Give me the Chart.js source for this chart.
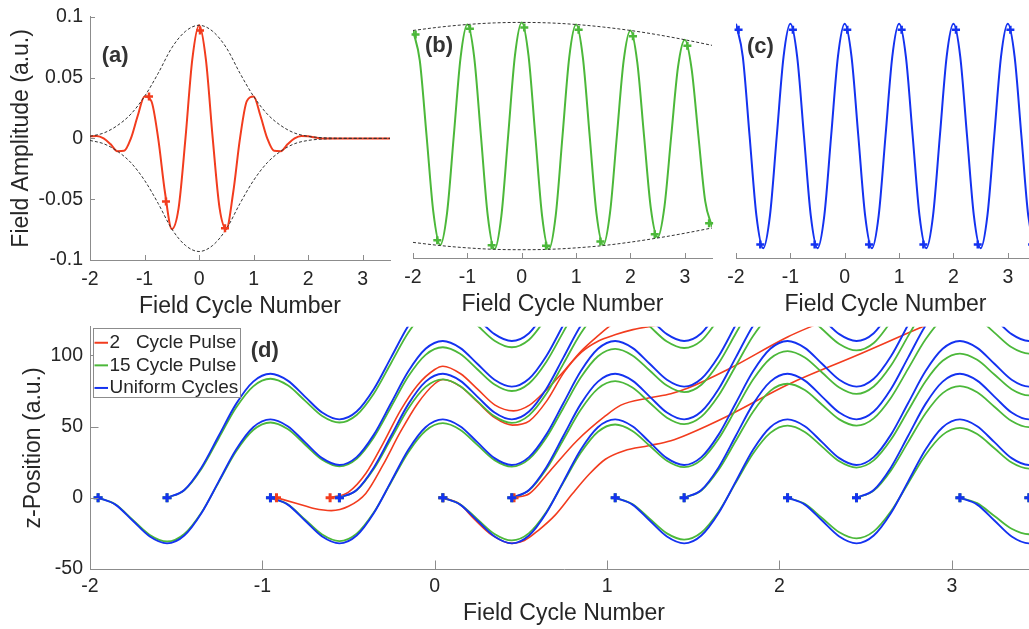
<!DOCTYPE html>
<html><head><meta charset="utf-8">
<script src="https://cdn.jsdelivr.net/npm/chart.js@4/dist/chart.umd.min.js"></script>
<style>
html,body{margin:0;padding:0;background:#fff;overflow:hidden;width:1029px;height:629px;position:relative;}
canvas{position:absolute;}
</style></head><body>
<canvas id="ca" width="400" height="320" style="left:0;top:0"></canvas>
<canvas id="cb" width="400" height="320" style="left:323px;top:0"></canvas>
<canvas id="cc" width="400" height="320" style="left:646px;top:0"></canvas>
<canvas id="cd" width="1060" height="319" style="left:0;top:310px"></canvas>
<script>
// ---------------- DATA ----------------
const xTickValues = [-2, -1, 0, 1, 2, 3];
const xTickLabels = ['-2', '-1', '0', '1', '2', '3'];
const yTickValuesA = [-0.1, -0.05, 0, 0.05, 0.1];
const yTickLabelsA = ['-0.1', '-0.05', '0', '0.05', '0.1'];
const yTickValuesD = [-50, 0, 50, 100];
const yTickLabelsD = ['-50', '0', '50', '100'];
const xTitle = 'Field Cycle Number';
const yTitleA = 'Field Amplitude (a.u.)';
const yTitleD = 'z-Position (a.u.)';
const panelNames = ['(a)', '(b)', '(c)', '(d)'];
const legendLabels = ['2   Cycle Pulse', '15 Cycle Pulse', 'Uniform Cycles'];

// field traces (panels a, b, c)
const fieldTimes = [-2,-1.875,-1.75,-1.625,-1.5,-1.375,-1.25,-1.125,-1,-0.875,-0.75,-0.625,-0.5,-0.375,-0.25,-0.125,0,0.125,0.25,0.375,0.5,0.625,0.75,0.875,1,1.125,1.25,1.375,1.5,1.625,1.75,1.875,2,2.125,2.25,2.375,2.5,2.625,2.75,2.875,3,3.125,3.25,3.375,3.5];
const fieldTwoCycle = [0.0017,0.0020,0,-0.0047,-0.0105,-0.0102,0,0.0186,0.0345,0.0306,0,-0.0445,-0.0745,-0.0571,0,0.0647,0.0930,0.0647,0,-0.0571,-0.0745,-0.0445,0,0.0306,0.0345,0.0186,0,-0.0102,-0.0105,-0.0047,0,0.0020,0.0017,0.0007,0,0,0,0,0,0,0,0,0,0,0];
const fieldFifteenCycle = [0.0865,0.0617,0,-0.0627,-0.0893,-0.0636,0,0.0643,0.0914,0.0649,0,-0.0653,-0.0927,-0.0657,0,0.0658,0.0931,0.0658,0,-0.0657,-0.0927,-0.0653,0,0.0649,0.0914,0.0643,0,-0.0636,-0.0893,-0.0627,0,0.0617,0.0865,0.0606,0,-0.0593,-0.0830,-0.0580,0,0.0566,0.0789,0.0550,0,-0.0534,-0.0743];
const fieldUniform = [0.092,0.0651,0,-0.0651,-0.092,-0.0651,0,0.0651, 0.092,0.0651,0,-0.0651,-0.092,-0.0651,0,0.0651, 0.092,0.0651,0,-0.0651,-0.092,-0.0651,0,0.0651, 0.092,0.0651,0,-0.0651,-0.092,-0.0651,0,0.0651, 0.092,0.0651,0,-0.0651,-0.092,-0.0651,0,0.0651, 0.092,0.0651,0,-0.0651,-0.092];

const envTimesA = [-2,-1.75,-1.5,-1.25,-1,-0.75,-0.5,-0.25,0,0.25,0.5,0.75,1,1.25,1.5,1.75,2,2.25,2.5,2.75,3,3.25,3.5];
const envUpperA = [0.0017,0.0044,0.0105,0.0200,0.0345,0.0535,0.0745,0.0880,0.0930,0.0880,0.0745,0.0535,0.0345,0.0200,0.0105,0.0044,0.0017,0.0006,0.0002,0.0001,0,0,0];
const envLowerA = [-0.0017,-0.0044,-0.0105,-0.0200,-0.0345,-0.0535,-0.0745,-0.0880,-0.0930,-0.0880,-0.0745,-0.0535,-0.0345,-0.0200,-0.0105,-0.0044,-0.0017,-0.0006,-0.0002,-0.0001,0,0,0];
const envTimesB = [-2,-1.5,-1,-0.5,0,0.5,1,1.5,2,2.5,3,3.5];
const envUpperB = [0.0865,0.0893,0.0914,0.0927,0.0931,0.0927,0.0914,0.0893,0.0865,0.0830,0.0789,0.0743];
const envLowerB = [-0.0872,-0.0898,-0.0917,-0.0929,-0.0932,-0.0929,-0.0917,-0.0898,-0.0870,-0.0836,-0.0797,-0.0754];

const crossTimesA = [-0.918, -0.607, 0.017, 0.475];
const crossValsA = [0.0345, -0.052, 0.0887, -0.0739];
const crossTimesBC = [-1.953,-1.553,-0.953,-0.553,0.047,0.447,1.047,1.447,2.047,2.447,3.047,3.447];
const crossValsB = [0.0832,-0.0854,0.0880,-0.0895,0.0889,-0.0900,0.0870,-0.0865,0.0818,-0.0805,0.0740,-0.0715];
const crossValsC = [0.087,-0.089,0.087,-0.089,0.087,-0.089,0.087,-0.089,0.087,-0.089,0.087,-0.089];

// trajectories (panel d), z sampled every 0.1 field cycle from birth
const TRAJ_STEP = 0.1;
const blueBirthA = [-1.953, -0.953, 0.047, 1.047, 2.047, 3.047];
const blueBirthB = [-1.553, -0.553, 0.447, 1.447, 2.447, 3.447];
const blueShapeA = [0,-4.8,-16.0,-27.2,-32.0,-26.5,-10.7,11.5,33.7,49.5,55.0,50.2,39.0,27.8,23.0,28.5,44.3,66.5,88.7,104.5,110.0,105.2,94.0,82.8,78.0,83.5,99.3,121.5,143.7];
const blueShapeB = [0,5.5,21.3,43.5,65.7,81.5,87.0,82.2,71.0,59.8,55.0,60.5,76.3,98.5,120.7,136.5,142.0,137.2,126.0,114.8,110.0,115.5,131.3];

const greenBirthA = [-1.953, -0.953, 0.047, 1.047, 2.047, 3.047];
const greenBirthB = [-1.553, -0.553, 0.447, 1.447, 2.447, 3.447];
const greenA1 = [0,-4.6,-15.4,-26.1,-30.7,-25.4,-10.3,11.0,32.4,47.5,52.8,48.2,37.4,26.7,22.1,27.4,42.5,63.8,85.2,100.3,105.6,101.0,90.2,79.5,74.9,80.2,95.3,116.6,138.0];
const greenA2 = [0,-4.6,-15.2,-25.8,-30.4,-25.2,-10.2,10.9,32.0,47.0,52.3,47.7,37.1,26.4,21.9,27.1,42.1,63.2,84.3,99.3,104.5,99.9,89.3,78.7,74.1,79.3,94.3,115.4,136.5];
const greenA3 = [0,-4.5,-15.0,-25.4,-29.9,-24.8,-10.0,10.8,31.5,46.3,51.4,46.9,36.5,26.0,21.5,26.6,41.4,62.2,82.9,97.7,102.9,98.4,87.9,77.4,72.9,78.1,92.8,113.6,134.4];
const greenA4 = [0,-4.4,-14.7,-25.0,-29.4,-24.4,-9.8,10.6,31.0,45.5,50.6,46.2,35.9,25.6,21.2,26.2,40.8,61.2,81.6,96.1,101.2,96.8,86.5,76.2,71.8,76.8];
const greenA5 = [0,-4.3,-14.2,-24.2,-28.5,-23.6,-9.5,10.2,30.0,44.1,49.0,44.7,34.7,24.7,20.5,25.4];
const greenA6 = [0,-3.8,-12.8,-21.8,-25.6,-21.2];
const greenB1 = [0,5.3,20.4,41.8,63.1,78.2,83.5,78.9,68.2,57.4,52.8,58.1,73.2,94.6,115.9,131.0,136.3,131.7,121.0,110.2,105.6,110.9,126.0];
const greenB2 = [0,5.3,20.3,41.5,62.7,77.8,83.1,78.5,67.8,57.1,52.5,57.8,72.9,94.1,115.3,130.4,135.6,131.0,120.3,109.6,105.1,110.3,125.4];
const greenB3 = [0,5.2,20.0,40.9,61.8,76.6,81.8,77.3,66.7,56.2,51.7,56.9,71.7,92.6,113.5,128.3,133.5,129.0,118.4,107.9,103.4,108.6,123.4];
const greenB4 = [0,5.1,19.6,40.0,60.4,75.0,80.0,75.6,65.3,55.0,50.6,55.7,70.2,90.6,111.0,125.6,130.6,126.2,115.9,105.6,101.2,106.3];
const greenB5 = [0,5.0,19.2,39.2,59.1,73.4,78.3,74.0,63.9,53.8,49.5,54.5];
const greenB6 = [0,4.8];

const red1T = [-0.918,-0.8,-0.7,-0.6,-0.5,-0.4,-0.3,-0.2,-0.1,0,0.05,0.15,0.25,0.35,0.45,0.55,0.65,0.75,0.85,0.95,1.05,1.15,1.27,1.4];
const red1Z = [0,-4,-7.5,-9,-6,3,23,46,66,80,83,78,67,56,51,54,68,88,102,110,114.5,118,120.6,123];
const red2T = [-0.607,-0.5,-0.4,-0.3,-0.2,-0.1,0,0.047,0.15,0.25,0.35,0.457,0.55,0.65,0.75,0.85,0.95,1.02,1.1];
const red2Z = [0,4,17,38,61,79,90,92.3,87,76,65,61,65,76,89,103,114,121,128];
const red3T = [0.047,0.14,0.23,0.33,0.45,0.52,0.6,0.7,0.8,0.9,0.99,1.1,1.24,1.37,1.47,1.7,2.05,2.45,2.83,2.95];
const red3Z = [0,-4,-15,-26,-32,-30,-23,-12,3,17,27,33,36.5,40,44.6,57.4,79.5,100,120,126];
const red4T = [0.46,0.55,0.67,0.825,0.99,1.08,1.24,1.37,1.47,1.7,2.05,2.2,2.3];
const red4Z = [0,3,19,40,57.4,65,70,73,77,90,113,121,126];
const redCrossT = [-0.918, -0.607, 0.047, 0.46];

// ---------------- STYLE ----------------
const FONT = "'Liberation Sans', Arial, Helvetica, sans-serif";
Chart.defaults.font.family = FONT;
const TEXT = '#262626', AXIS = '#8c8c8c';
const RED = '#f23c1e', GREEN = '#4cb83a', BLUE = '#1432f0';

const pts = (xs, ys) => xs.map((x, i) => ({x: x, y: ys[i]}));
const traj = (birth, zs) => zs.map((z, i) => ({x: +(birth + i * TRAJ_STEP).toFixed(3), y: z})).filter(p => p.x <= 3.62);

const lineDs = (data, color, w, order, extra) => Object.assign({
  data, borderColor: color, backgroundColor: color, borderWidth: w, pointRadius: 0,
  fill: false, cubicInterpolationMode: 'monotone', order
}, extra || {});
const crossDs = (data, color, r, w, order) => ({
  data, showLine: false, pointStyle: 'cross', pointRadius: r, pointBorderWidth: w,
  borderColor: color, backgroundColor: color, pointBorderColor: color, order, clip: false
});

// ---------------- PLUGINS ----------------
const inTicks = {
  id: 'inTicks',
  afterDatasetsDraw(chart, args, o) {
    const ctx = chart.ctx, ca = chart.chartArea;
    ctx.save(); ctx.strokeStyle = AXIS; ctx.lineWidth = 1; ctx.beginPath();
    (o.x || []).forEach(v => { const px = Math.round(chart.scales.x.getPixelForValue(v)) + 0.5; ctx.moveTo(px, ca.bottom); ctx.lineTo(px, ca.bottom - o.len); });
    (o.y || []).forEach(v => { const py = Math.round(chart.scales.y.getPixelForValue(v)) + 0.5; ctx.moveTo(ca.left, py); ctx.lineTo(ca.left + o.len, py); });
    ctx.stroke(); ctx.restore();
  }
};
const panelLabel = {
  id: 'panelLabel',
  afterDatasetsDraw(chart, args, o) {
    if (!o.text) return;
    const ctx = chart.ctx;
    ctx.save(); ctx.font = 'bold 22px ' + FONT; ctx.fillStyle = '#333'; ctx.textAlign = 'left'; ctx.textBaseline = 'middle';
    ctx.fillText(o.text, chart.scales.x.getPixelForValue(o.x), chart.scales.y.getPixelForValue(o.y));
    ctx.restore();
  }
};
const legendBox = {
  id: 'legendBox',
  afterDraw(chart, args, o) {
    if (!o.items) return;
    const ctx = chart.ctx, ca = chart.chartArea;
    const x0 = ca.left + 3, y0 = ca.top + 1.5;
    ctx.save();
    ctx.fillStyle = '#fff'; ctx.fillRect(x0, y0, 147, 69);
    ctx.strokeStyle = AXIS; ctx.lineWidth = 1; ctx.strokeRect(Math.round(x0) + 0.5, Math.round(y0) + 0.5, 147, 69);
    ctx.font = '19px ' + FONT; ctx.textBaseline = 'middle'; ctx.textAlign = 'left';
    o.items.forEach((it, i) => {
      const y = y0 + 14.5 + i * 22.6;
      ctx.strokeStyle = it.color; ctx.lineWidth = 2;
      ctx.beginPath(); ctx.moveTo(x0 + 1.5, y); ctx.lineTo(x0 + 15, y); ctx.stroke();
      ctx.fillStyle = TEXT; ctx.fillText(it.text, x0 + 16.5, y);
    });
    ctx.restore();
  }
};

function xScale(height, tickPad, titlePad) {
  return {
    type: 'linear', min: -2, max: 3.5,
    afterBuildTicks: s => { s.ticks = xTickValues.map(v => ({value: v})); },
    afterFit: s => { s.height = height; },
    grid: {display: false, drawTicks: false},
    border: {display: true, color: AXIS, width: 1},
    ticks: {font: {size: 19.5, lineHeight: 1}, color: TEXT, padding: tickPad, maxRotation: 0, autoSkip: false,
      callback: (v, i) => xTickLabels[i]},
    title: {display: true, text: xTitle, font: {size: 23, lineHeight: 1}, color: TEXT, padding: {top: 0, bottom: titlePad}}
  };
}
function yScale(min, max, vals, labels, title, titlePad) {
  return {
    type: 'linear', min, max,
    afterBuildTicks: s => { s.ticks = vals.map(v => ({value: v})); },
    afterFit: s => { s.width = 90; },
    grid: {display: false, drawTicks: false},
    border: {display: true, color: AXIS, width: 1},
    ticks: {font: {size: 19.5, lineHeight: 1}, color: TEXT, padding: 7, autoSkip: false,
      callback: (v, i) => labels[i]},
    title: {display: true, text: title, font: {size: 23, lineHeight: 1}, color: TEXT, padding: {top: titlePad, bottom: 0}}
  };
}
const baseOpts = {responsive: false, animation: false, events: []};

// ---------------- PANEL (a) ----------------
new Chart(document.getElementById('ca'), {
  type: 'line',
  data: {datasets: [
    crossDs(pts(crossTimesA, crossValsA), RED, 4, 2.5, 0),
    lineDs(pts(envTimesA, envUpperA), '#333', 1, 1, {borderDash: [3, 2]}),
    lineDs(pts(envTimesA, envLowerA), '#333', 1, 1, {borderDash: [3, 2]}),
    lineDs(pts(fieldTimes, fieldTwoCycle), RED, 2, 2)
  ]},
  options: Object.assign({}, baseOpts, {
    layout: {padding: {left: 0, right: 10, top: 16, bottom: 0}},
    scales: {x: xScale(60, 9.5, 1.5), y: yScale(-0.1, 0.1, yTickValuesA, yTickLabelsA, yTitleA, 10)},
    plugins: {legend: {display: false}, tooltip: {enabled: false},
      inTicks: {x: xTickValues, y: yTickValuesA, len: 5},
      panelLabel: {text: panelNames[0], x: -1.786, y: 0.0676}},
    elements: {line: {capBezierPoints: false}}
  }),
  plugins: [inTicks, panelLabel]
});

// ---------------- PANEL (b) ----------------
new Chart(document.getElementById('cb'), {
  type: 'line',
  data: {datasets: [
    crossDs(pts(crossTimesBC, crossValsB), GREEN, 4, 2.5, 0),
    lineDs(pts(envTimesB, envUpperB), '#333', 1, 1, {borderDash: [3, 2]}),
    lineDs(pts(envTimesB, envLowerB), '#333', 1, 1, {borderDash: [3, 2]}),
    lineDs(pts(fieldTimes, fieldFifteenCycle), GREEN, 2, 2)
  ]},
  options: Object.assign({}, baseOpts, {
    layout: {padding: {left: 90, right: 11, top: 14, bottom: 0}},
    scales: {x: xScale(62, 9.5, 3.5), y: {display: false, min: -0.1, max: 0.1}},
    plugins: {legend: {display: false}, tooltip: {enabled: false},
      inTicks: {x: xTickValues, len: 5},
      panelLabel: {text: panelNames[1], x: -1.779, y: 0.0742}},
    elements: {line: {capBezierPoints: false}}
  }),
  plugins: [inTicks, panelLabel]
});

// ---------------- PANEL (c) ----------------
new Chart(document.getElementById('cc'), {
  type: 'line',
  data: {datasets: [
    crossDs(pts(crossTimesBC, crossValsC), BLUE, 4, 2.5, 0),
    lineDs(pts(fieldTimes, fieldUniform), BLUE, 2, 2)
  ]},
  options: Object.assign({}, baseOpts, {
    layout: {padding: {left: 90, right: 11, top: 14, bottom: 0}},
    scales: {x: xScale(62, 9.5, 3.5), y: {display: false, min: -0.1, max: 0.1}},
    plugins: {legend: {display: false}, tooltip: {enabled: false},
      inTicks: {x: xTickValues, len: 5},
      panelLabel: {text: panelNames[2], x: -1.798, y: 0.0730}},
    elements: {line: {capBezierPoints: false}}
  }),
  plugins: [inTicks, panelLabel]
});

// ---------------- PANEL (d) ----------------
const greenA = [greenA1, greenA2, greenA3, greenA4, greenA5, greenA6];
const greenB = [greenB1, greenB2, greenB3, greenB4, greenB5, greenB6];
const dSets = [];
blueBirthA.forEach(b => dSets.push(lineDs(traj(b, blueShapeA), BLUE, 1.9, 3)));
blueBirthB.forEach(b => dSets.push(lineDs(traj(b, blueShapeB), BLUE, 1.9, 3)));
greenBirthA.forEach((b, i) => dSets.push(lineDs(traj(b, greenA[i]), GREEN, 1.8, 4)));
greenBirthB.forEach((b, i) => dSets.push(lineDs(traj(b, greenB[i]), GREEN, 1.8, 4)));
[[red1T, red1Z], [red2T, red2Z], [red3T, red3Z], [red4T, red4Z]].forEach(r => dSets.push(lineDs(pts(r[0], r[1]), RED, 1.6, 5)));
dSets.push(crossDs(redCrossT.map(t => ({x: t, y: 0})), RED, 4.5, 3, 2));
dSets.push(crossDs(greenBirthA.concat(greenBirthB).map(t => ({x: t, y: 0})), GREEN, 4.5, 3, 1));
dSets.push(crossDs(blueBirthA.concat(blueBirthB).map(t => ({x: t, y: 0})), BLUE, 4.5, 3, 0));

new Chart(document.getElementById('cd'), {
  type: 'line',
  data: {datasets: dSets},
  options: Object.assign({}, baseOpts, {
    layout: {padding: {left: 0, right: 22, top: 15, bottom: 0}},
    scales: {x: xScale(60, 7.8, 3.8), y: yScale(-50, 120, yTickValuesD, yTickLabelsD, yTitleD, 22.4)},
    plugins: {legend: {display: false}, tooltip: {enabled: false},
      inTicks: {x: xTickValues, y: yTickValuesD, len: 8.5},
      panelLabel: {text: panelNames[3], x: -1.068, y: 103},
      legendBox: {items: [{text: legendLabels[0], color: RED}, {text: legendLabels[1], color: GREEN}, {text: legendLabels[2], color: BLUE}]}},
    elements: {line: {capBezierPoints: false}}
  }),
  plugins: [inTicks, panelLabel, legendBox]
});
</script>
</body></html>
